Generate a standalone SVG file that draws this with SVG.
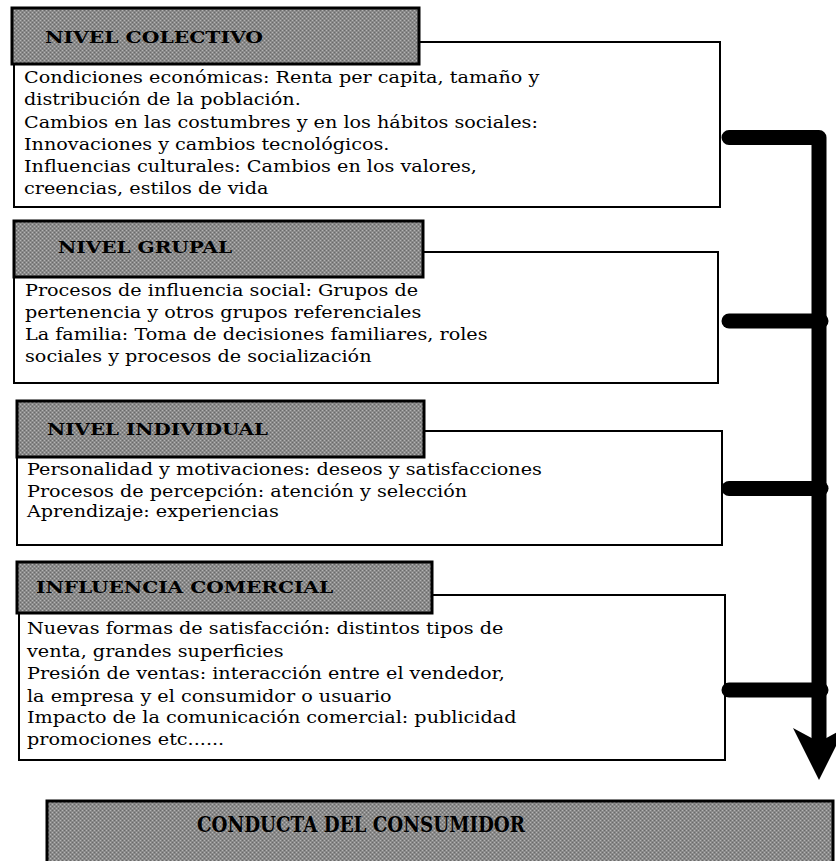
<svg xmlns="http://www.w3.org/2000/svg" width="836" height="861" viewBox="0 0 836 861">
<defs>
<pattern id="dots" width="4" height="4" patternUnits="userSpaceOnUse">
<rect width="4" height="4" fill="#8a8a8a"/>
<rect x="0" y="0" width="1" height="1" fill="#b4b4b4"/>
<rect x="2" y="2" width="1" height="1" fill="#b4b4b4"/>
<rect x="2" y="0" width="1" height="1" fill="#6a6a6a"/>
<rect x="0" y="2" width="1" height="1" fill="#6a6a6a"/>
</pattern>
<style>
.body{fill:#fff;stroke:#000;stroke-width:2}
.head{fill:url(#dots);stroke:#000;stroke-width:3}
.ht{font-family:"DejaVu Serif","Liberation Serif",serif;font-weight:bold;font-size:16px;fill:#000}
.bt{font-family:"DejaVu Serif","Liberation Serif",serif;font-size:16px;fill:#000}
.conn{fill:none;stroke:#000;stroke-width:15;stroke-linecap:round;stroke-linejoin:round}
</style>
</defs>
<rect width="836" height="861" fill="#fff"/>

<g id="colectivo">
<rect class="body" x="14" y="42" width="706" height="165"/>
<rect class="head" x="12" y="8" width="407" height="56"/>
<text class="ht" x="45" y="43" textLength="218" lengthAdjust="spacingAndGlyphs">NIVEL COLECTIVO</text>
<g transform="translate(24,0) scale(1.2,1) translate(-24,0)">
<text class="bt" x="24" y="83">Condiciones económicas: Renta per capita, tamaño y</text>
<text class="bt" x="24" y="105">distribución de la población.</text>
<text class="bt" x="24" y="128">Cambios en las costumbres y en los hábitos sociales:</text>
<text class="bt" x="24" y="150">Innovaciones y cambios tecnológicos.</text>
<text class="bt" x="24" y="172">Influencias culturales: Cambios en los valores,</text>
<text class="bt" x="24" y="194">creencias, estilos de vida</text>
</g>
</g>

<g id="grupal">
<rect class="body" x="14" y="252" width="704" height="131"/>
<rect class="head" x="14" y="221" width="409" height="56"/>
<text class="ht" x="58" y="253" textLength="174" lengthAdjust="spacingAndGlyphs">NIVEL GRUPAL</text>
<g transform="translate(25,0) scale(1.2,1) translate(-25,0)">
<text class="bt" x="25" y="296">Procesos de influencia social: Grupos de</text>
<text class="bt" x="25" y="318">pertenencia y otros grupos referenciales</text>
<text class="bt" x="25" y="340">La familia: Toma de decisiones familiares, roles</text>
<text class="bt" x="25" y="362">sociales y procesos de socialización</text>
</g>
</g>

<g id="individual">
<rect class="body" x="17" y="431" width="705" height="114"/>
<rect class="head" x="17" y="401" width="407" height="56"/>
<text class="ht" x="47" y="435" textLength="221" lengthAdjust="spacingAndGlyphs">NIVEL INDIVIDUAL</text>
<g transform="translate(27,0) scale(1.2,1) translate(-27,0)">
<text class="bt" x="27" y="475">Personalidad y motivaciones: deseos y satisfacciones</text>
<text class="bt" x="27" y="497">Procesos de percepción: atención y selección</text>
<text class="bt" x="27" y="517">Aprendizaje: experiencias</text>
</g>
</g>

<g id="comercial">
<rect class="body" x="19" y="595" width="706" height="165"/>
<rect class="head" x="17" y="562" width="415" height="51"/>
<text class="ht" x="36" y="593" textLength="297" lengthAdjust="spacingAndGlyphs">INFLUENCIA COMERCIAL</text>
<g transform="translate(27,0) scale(1.2,1) translate(-27,0)">
<text class="bt" x="27" y="634">Nuevas formas de satisfacción: distintos tipos de</text>
<text class="bt" x="27" y="657">venta, grandes superficies</text>
<text class="bt" x="27" y="679">Presión de ventas: interacción entre el vendedor,</text>
<text class="bt" x="27" y="702">la empresa y el consumidor o usuario</text>
<text class="bt" x="27" y="723">Impacto de la comunicación comercial: publicidad</text>
<text class="bt" x="27" y="745">promociones etc......</text>
</g>
</g>

<g id="conducta">
<rect class="head" x="47" y="801" width="786" height="80"/>
<text class="ht" x="197" y="832" style="font-size:23px" textLength="328" lengthAdjust="spacingAndGlyphs">CONDUCTA DEL CONSUMIDOR</text>
</g>

<g id="connectors">
<path class="conn" d="M729 137.5 H819 V740"/>
<path class="conn" d="M729 321 H821"/>
<path class="conn" d="M729 488.5 H821"/>
<path class="conn" d="M729 690 H821"/>
<polygon points="819,780 793,728 819,742 845,728" fill="#000"/>
</g>
</svg>
